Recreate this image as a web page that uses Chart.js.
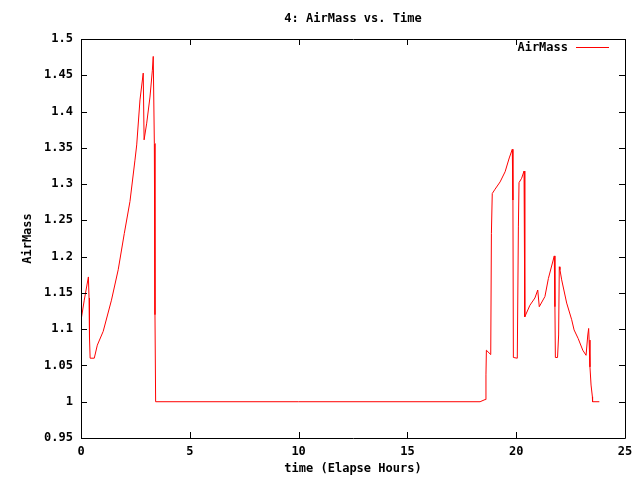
<!DOCTYPE html>
<html>
<head>
<meta charset="utf-8">
<title>4: AirMass vs. Time</title>
<script src="https://cdn.jsdelivr.net/npm/chart.js@4/dist/chart.umd.min.js"></script>
<style>
  html, body { margin: 0; padding: 0; background: #fff; }
  #chart { display: block; }
</style>
</head>
<body>
<canvas id="chart" width="640" height="480"></canvas>
<script>
// Elapsed hours and airmass
const hours = [
    0.00, 0.15, 0.34, 0.37, 0.39, 0.42, 0.61, 0.75, 1.02, 1.40,
    1.71, 1.99, 2.25, 2.48, 2.56, 2.71, 2.86, 2.90, 3.02, 3.17,
    3.28, 3.32, 3.37, 3.40, 3.43, 10.0, 18.34, 18.57, 18.61, 18.63,
    18.83, 18.86, 18.90, 19.03, 19.26, 19.49, 19.68, 19.82, 19.85, 19.87,
    20.05, 20.10, 20.13, 20.25, 20.36, 20.39, 20.40, 20.63, 20.86, 20.99,
    21.06, 21.32, 21.48, 21.75, 21.78, 21.80, 21.90, 21.95, 21.98, 22.01,
    22.09, 22.32, 22.55, 22.66, 22.85, 23.06, 23.21, 23.29, 23.33, 23.35,
    23.39, 23.44, 23.50, 23.51, 23.82
];
const airmass = [
    1.112, 1.140, 1.172, 1.143, 1.088, 1.060, 1.060, 1.078, 1.097, 1.140,
    1.182, 1.232, 1.276, 1.333, 1.354, 1.416, 1.453, 1.361, 1.384, 1.420,
    1.457, 1.476, 1.356, 1.120, 1.000, 1.000, 1.000, 1.003, 1.037, 1.071,
    1.065, 1.232, 1.287, 1.293, 1.303, 1.317, 1.336, 1.348, 1.278, 1.061,
    1.060, 1.241, 1.302, 1.308, 1.318, 1.267, 1.117, 1.133, 1.143, 1.154,
    1.131, 1.145, 1.170, 1.201, 1.131, 1.061, 1.061, 1.092, 1.186, 1.182,
    1.168, 1.136, 1.113, 1.099, 1.087, 1.071, 1.064, 1.092, 1.101, 1.085,
    1.048, 1.023, 1.007, 1.000, 1.000
];

const seriesName = 'AirMass';
const chartTitle = '4: AirMass vs. Time';
const xTitle = 'time (Elapse Hours)';
const yTitle = 'AirMass';
const xTicks = [0, 5, 10, 15, 20, 25];
const yTicks = [0.95, 1, 1.05, 1.1, 1.15, 1.2, 1.25, 1.3, 1.35, 1.4, 1.45, 1.5];

const FONT = '"DejaVu Sans Mono", "Liberation Mono", monospace';
const TEXT_FONT = { family: FONT, size: 12, weight: 'bold' };
const LINE_RED = '#ff0000';

// gnuplot-style frame: border, mirrored inward ticks, title over the plot, key top right
const gnuFrame = {
    id: 'gnuFrame',
    afterDatasetsDraw(chart) {
        const ctx = chart.ctx;
        const area = chart.chartArea;
        const xs = chart.scales.x;
        const ys = chart.scales.y;
        const tick = 6;

        ctx.save();
        ctx.strokeStyle = '#000';
        ctx.lineWidth = 1;
        ctx.beginPath();
        ctx.rect(Math.round(area.left) + 0.5, Math.round(area.top) + 0.5,
                 Math.round(area.right - area.left), Math.round(area.bottom - area.top));
        xTicks.forEach(v => {
            const px = Math.round(xs.getPixelForValue(v)) + 0.5;
            ctx.moveTo(px, area.bottom);
            ctx.lineTo(px, area.bottom - tick);
            ctx.moveTo(px, area.top);
            ctx.lineTo(px, area.top + tick);
        });
        yTicks.forEach(v => {
            const py = Math.round(ys.getPixelForValue(v)) + 0.5;
            ctx.moveTo(area.left, py);
            ctx.lineTo(area.left + tick, py);
            ctx.moveTo(area.right, py);
            ctx.lineTo(area.right - tick, py);
        });
        ctx.stroke();

        ctx.font = 'bold 12px ' + FONT;
        ctx.fillStyle = '#000';
        ctx.textBaseline = 'middle';

        // title, centred on the plot area like gnuplot does
        ctx.textAlign = 'center';
        ctx.fillText(chartTitle, (area.left + area.right) / 2, 19);

        // key
        const keyY = area.top + 8.5;
        ctx.textAlign = 'right';
        ctx.fillText(seriesName, area.right - 57, keyY);
        ctx.strokeStyle = LINE_RED;
        ctx.beginPath();
        ctx.moveTo(area.right - 49, keyY);
        ctx.lineTo(area.right - 16, keyY);
        ctx.stroke();
        ctx.restore();
    }
};

const ctx = document.getElementById('chart').getContext('2d');
new Chart(ctx, {
    type: 'line',
    data: {
        datasets: [{
            label: seriesName,
            data: hours.map((h, i) => ({ x: h, y: airmass[i] })),
            borderColor: LINE_RED,
            borderWidth: 1,
            pointRadius: 0,
            tension: 0,
            fill: false
        }]
    },
    options: {
        responsive: false,
        animation: false,
        layout: { padding: { left: 0, right: 15, top: 39, bottom: 0 } },
        plugins: {
            legend: { display: false },
            tooltip: { enabled: false },
            title: { display: false }
        },
        scales: {
            x: {
                type: 'linear',
                min: 0,
                max: 25,
                afterFit: s => { s.height = 42; },
                afterBuildTicks: s => { s.ticks = xTicks.map(v => ({ value: v })); },
                grid: { display: false, drawTicks: false },
                border: { display: false },
                ticks: {
                    color: '#000',
                    padding: 7,
                    maxRotation: 0,
                    font: TEXT_FONT
                },
                title: {
                    display: true,
                    text: xTitle,
                    color: '#000',
                    font: TEXT_FONT,
                    padding: { top: 0, bottom: 3.8 }
                }
            },
            y: {
                type: 'linear',
                min: 0.95,
                max: 1.5,
                afterFit: s => { s.width = 81; },
                afterBuildTicks: s => { s.ticks = yTicks.map(v => ({ value: v })); },
                grid: { display: false, drawTicks: false },
                border: { display: false },
                ticks: {
                    color: '#000',
                    padding: 8,
                    font: TEXT_FONT,
                    callback: v => String(Number(v.toFixed(2)))
                },
                title: {
                    display: true,
                    text: yTitle,
                    color: '#000',
                    font: TEXT_FONT,
                    padding: { top: 21, bottom: 0 }
                }
            }
        }
    },
    plugins: [gnuFrame]
});
</script>
</body>
</html>
